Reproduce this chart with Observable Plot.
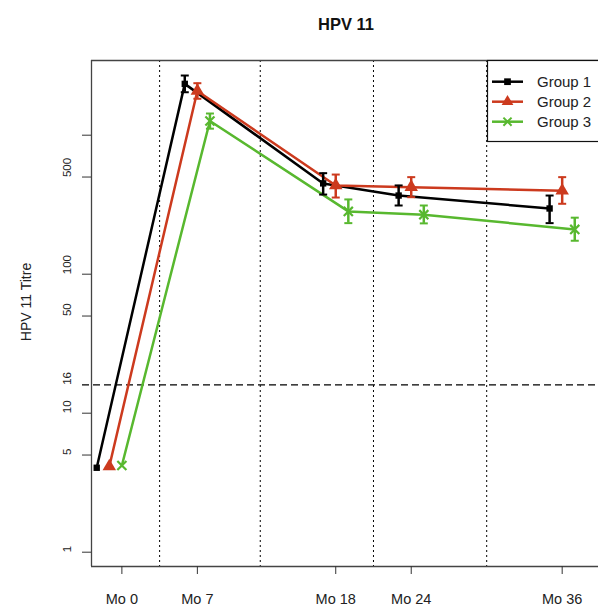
<!DOCTYPE html>
<html><head><meta charset="utf-8">
<script src="https://cdn.jsdelivr.net/npm/d3@7"></script>
<script src="https://cdn.jsdelivr.net/npm/@observablehq/plot@0.6"></script>
<style>body{margin:0;background:#fff;} svg{display:block;}</style>
</head><body><div id="chart"></div>
<script>
// ---- data ----
const chartTitle = "HPV 11";
const yLabel = "HPV 11 Titre";
const groups = ["Group 1", "Group 2", "Group 3"];
const colors = ["#000000", "#cc3a1e", "#58b82f"];
const visitMonth = [0, 7, 18, 24, 36];
const groupOffset = [-1, 0, 1];
const xTickPos = [1, 7, 18, 24, 36];
const xTickLabels = ["Mo 0", "Mo 7", "Mo 18", "Mo 24", "Mo 36"];
const yTicks = [1, 5, 10, 50, 100, 500, 1000];
const yLabelTicks = [1, 5, 10, 16, 50, 100, 500];
const yLabelText = ["1", "5", "10", "16", "50", "100", "500"];
const threshold = [16];
const separators = [4, 12, 21, 30];

const g1Titre = [4.05, 2340, 450, 368, 297];
const g1Low   = [null, 2037, 374, 312, 233];
const g1High  = [null, 2687, 533, 435, 368];
const g2Titre = [4.14, 2080, 435, 423, 399];
const g2Low   = [null, 1828, 356, 358, 321];
const g2High  = [null, 2366, 521, 499, 499];
const g3Titre = [4.2, 1265, 283, 268, 210];
const g3Low   = [null, 1114, 233, 232, 174];
const g3High  = [null, 1432, 345, 312, 255];

const xDomain = [-1.415, 38.887];
const yDomain = [0.789, 3446];

// ---- build table ----
const series = [[g1Titre, g1Low, g1High], [g2Titre, g2Low, g2High], [g3Titre, g3Low, g3High]];
const rows = [];
series.forEach(([t, lo, hi], gi) => {
  visitMonth.forEach((m, j) => {
    rows.push({group: groups[gi], gi, x: m + groupOffset[gi], y: t[j], lo: lo[j], hi: hi[j]});
  });
});
const bars = rows.filter(d => d.lo != null);
const caps = bars.flatMap(d => [{...d, y: d.lo}, {...d, y: d.hi}]);
const yLabelRows = yLabelTicks.map((v, i) => ({v, t: yLabelText[i]}));
const xLabelRows = xTickPos.map((v, i) => ({v, t: xTickLabels[i]}));

const capSymbol = {draw(ctx, size) { const h = Math.sqrt(size / Math.PI); ctx.moveTo(-h, 0); ctx.lineTo(h, 0); }};
const font = "'Liberation Sans', Arial, Helvetica, sans-serif";

const chart = Plot.plot({
  width: 598, height: 613,
  marginTop: 60, marginBottom: 47, marginLeft: 91, marginRight: 0,
  style: {fontFamily: font, color: "#222", background: "#fff"},
  x: {domain: xDomain, axis: null},
  y: {type: "log", domain: yDomain, axis: null},
  color: {domain: groups, range: colors},
  marks: [
    Plot.ruleX(separators, {stroke: "#000", strokeDasharray: "2,3", strokeWidth: 1}),
    Plot.ruleY(threshold, {stroke: "#000", strokeDasharray: "7,4", strokeWidth: 1.2, insetLeft: -9}),
    Plot.ruleX([xDomain[0]], {stroke: "#444", strokeWidth: 1.3}),
    Plot.ruleY([yDomain[0]], {stroke: "#444", strokeWidth: 1.3}),
    Plot.ruleY([yDomain[1]], {stroke: "#444", strokeWidth: 1.3}),
    Plot.axisY(yTicks, {anchor: "left", tickSize: 9, tickFormat: () => "", label: null, stroke: "#333"}),
    Plot.text(yLabelRows, {y: "v", text: "t", frameAnchor: "left", dx: -24, rotate: -90, fontSize: 11.5, fill: "#222"}),
    Plot.axisX(xTickPos, {anchor: "bottom", tickSize: 8, tickFormat: () => "", label: null, stroke: "#333"}),
    Plot.text(xLabelRows, {x: "v", text: "t", frameAnchor: "bottom", dy: 37, fontSize: 14.5, fill: "#222"}),
    Plot.line(rows, {x: "x", y: "y", z: "group", stroke: "group", strokeWidth: 2.5}),
    Plot.ruleX(bars, {x: "x", y1: "lo", y2: "hi", stroke: "group", strokeWidth: 2.5}),
    Plot.dot(caps, {x: "x", y: "y", symbol: capSymbol, r: 4, stroke: "group", strokeWidth: 2}),
    Plot.dot(rows.filter(d => d.gi === 0), {x: "x", y: "y", symbol: "square", r: 3.6, fill: colors[0]}),
    Plot.dot(rows.filter(d => d.gi === 1), {x: "x", y: "y", symbol: "triangle", r: 5, fill: colors[1]}),
    Plot.dot(rows.filter(d => d.gi === 2), {x: "x", y: "y", symbol: "times", r: 4.2, stroke: colors[2], strokeWidth: 2.2})
  ]
});
document.getElementById("chart").appendChild(chart);

// ---- title, axis label, legend ----
const svg = d3.select(chart);
svg.append("text").attr("x", 346).attr("y", 30).attr("text-anchor", "middle")
  .attr("font-weight", "bold").attr("font-size", 16.5).attr("fill", "#111").attr("font-family", font).text(chartTitle);
svg.append("text").attr("transform", "translate(31,302) rotate(-90)").attr("text-anchor", "middle")
  .attr("font-size", 14).attr("fill", "#222").attr("font-family", font).text(yLabel);

const lg = svg.append("g");
lg.append("rect").attr("x", 487.5).attr("y", 60.5).attr("width", 130).attr("height", 81)
  .attr("fill", "#fff").attr("stroke", "#111").attr("stroke-width", 1.2);
const rowY = [81.7, 101.7, 121.7];
const symTypes = [d3.symbolSquare, d3.symbolTriangle, d3.symbolTimes];
groups.forEach((g, i) => {
  lg.append("line").attr("x1", 492).attr("x2", 523).attr("y1", rowY[i]).attr("y2", rowY[i])
    .attr("stroke", colors[i]).attr("stroke-width", 2.5);
  const p = lg.append("path").attr("transform", `translate(507.5,${rowY[i]})`)
    .attr("d", d3.symbol(symTypes[i], i === 1 ? 60 : 45)());
  if (i === 2) p.attr("fill", "none").attr("stroke", colors[i]).attr("stroke-width", 2);
  else p.attr("fill", colors[i]);
  lg.append("text").attr("x", 537).attr("y", rowY[i]).attr("dy", "0.35em").attr("text-anchor", "start")
    .attr("font-size", 15).attr("fill", "#222").attr("font-family", font).text(g);
});
</script>
</body></html>
